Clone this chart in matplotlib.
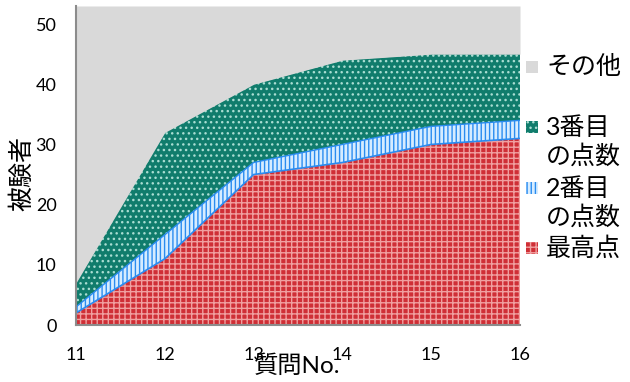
import numpy as np
import matplotlib
matplotlib.use("Agg")
import matplotlib.pyplot as plt
from matplotlib.patches import Rectangle

plt.rcParams['font.family'] = ['Lato', 'Noto Sans CJK JP', 'DejaVu Sans']
plt.rcParams['hatch.linewidth'] = 1.0

# 質問ごとの被験者数（下から積み上げ）
questions = [11, 12, 13, 14, 15, 16]
best = [2, 11, 25, 27, 30, 31]
second = [1, 4, 2, 3, 3, 3]
third = [4, 17, 13, 14, 12, 11]
total = 53
other = [total - (a + b + c) for a, b, c in zip(best, second, third)]

labels = ["最高点", "2番目\nの点数", "3番目\nの点数", "その他"]
series = [best, second, third, other]
faces = ["#cf2f36", "#d6ecff", "#107c6c", "#d9d9d9"]
hatch_colors = ["#f0a0a0", "#2a8cf0", "#a9ddd2", "#d9d9d9"]
hatches = ["+++", "||||", "...", None]

fig = plt.figure(figsize=(6.3, 3.82), dpi=100)
ax = fig.add_axes([76 / 630, 1 - 325 / 382, 444 / 630, 319 / 382])

lower = np.zeros(len(questions))
for vals, fc, hc, h in zip(series, faces, hatch_colors, hatches):
    upper = lower + np.array(vals)
    ax.fill_between(questions, lower, upper, facecolor=fc, edgecolor=hc,
                    linewidth=0, hatch=h)
    lower = upper

# 2番目の点数の帯の輪郭
b1 = np.array(best)
b2 = b1 + np.array(second)
ax.plot(questions, b1, color="#2a8cf0", lw=1.2)
ax.plot(questions, b2, color="#2a8cf0", lw=1.0)

ax.set_xlim(11, 16)
ax.set_ylim(0, total)
ax.set_yticks([0, 10, 20, 30, 40, 50])
ax.set_xticks(questions)
ax.tick_params(length=0, labelsize=13)
ax.tick_params(axis='x', pad=16)
ax.tick_params(axis='y', pad=14)
for s in ["top", "right"]:
    ax.spines[s].set_visible(False)
for s in ["left", "bottom"]:
    ax.spines[s].set_color("#8c8c8c")
    ax.spines[s].set_linewidth(1.5)

ax.set_xlabel("質問No.", fontsize=17.5, va="center")
ax.xaxis.set_label_coords(0.498, -0.128)
ax.set_ylabel("被験者", fontsize=18, va="center", ha="center")
ax.yaxis.set_label_coords(-0.122, 0.476)

# 凡例（上から その他, 3番目, 2番目, 最高点）
legend_rows = [(3, 67, 67), (2, 127, 142), (1, 188, 203), (0, 248, 248)]
for idx, patch_y, text_y in legend_rows:
    y0 = 1 - (patch_y + 6) / 382
    fig.add_artist(Rectangle((526 / 630, y0), 12 / 630, 12 / 382,
                             transform=fig.transFigure,
                             facecolor=faces[idx], edgecolor=hatch_colors[idx],
                             linewidth=0, hatch=hatches[idx]))
    fig.text(546 / 630, 1 - text_y / 382, labels[idx], fontsize=18,
             va="center", ha="left", linespacing=1.3)

fig.savefig("out.png", dpi=100)
